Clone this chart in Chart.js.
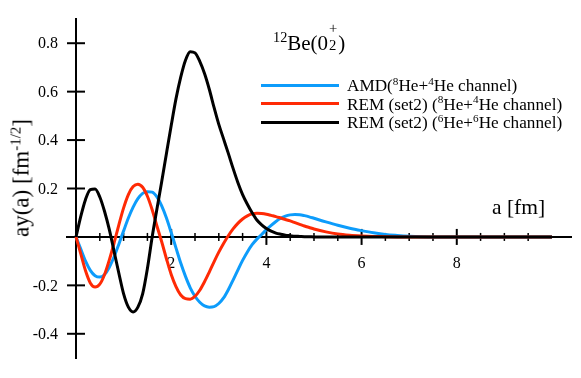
<!DOCTYPE html>
<html>
<head>
<meta charset="utf-8">
<script src="https://cdn.jsdelivr.net/npm/chart.js@4.4.1/dist/chart.umd.min.js"></script>
<style>
body { margin: 0; background: #fff; }
#wrap { position: relative; width: 581px; height: 378px; font-family: "Liberation Serif", serif; color: #000; }
#chart { position: absolute; left: 0; top: 0; }
.txt { position: absolute; line-height: 1; white-space: nowrap; }
.sup { font-size: 0.65em; position: relative; top: -0.55em; }
.stack { display: inline-block; position: relative; width: 0.48em; height: 1em; }
.stack span { position: absolute; left: 1px; font-size: 0.7em; line-height: 1; }
.leg { position: absolute; left: 261px; width: 78px; height: 3px; }
</style>
</head>
<body>
<div id="wrap">
  <canvas id="chart" width="581" height="378"></canvas>
  <div class="txt" style="left:273px; top:29px; font-size:21px;"><span class="sup" style="font-size:0.68em;">12</span>Be(0<span class="stack"><span style="top:-8px;">+</span><span style="top:9px;">2</span></span>)</div>
  <div class="leg" style="top:84px; background:#0d9cfb;"></div>
  <div class="leg" style="top:102px; background:#ff2a05;"></div>
  <div class="leg" style="top:121px; background:#000;"></div>
  <div class="txt" style="left:347px; top:77px; font-size:17.2px;">AMD(<span class="sup">8</span>He+<span class="sup">4</span>He channel)</div>
  <div class="txt" style="left:347px; top:95.5px; font-size:17.2px;">REM (set2) (<span class="sup">8</span>He+<span class="sup">4</span>He channel)</div>
  <div class="txt" style="left:347px; top:114px; font-size:17.2px;">REM (set2) (<span class="sup">6</span>He+<span class="sup">6</span>He channel)</div>
  <div class="txt" style="left:492px; top:197px; font-size:21.5px;">a [fm]</div>
  <div class="txt" style="left:21px; top:178px; font-size:23px; transform: translate(-50%, -50%) rotate(-90deg);">ay(a) [fm<span class="sup">-1/2</span>]</div>
</div>
<script>
// a [fm]
var aValues = [0, 0.1, 0.2, 0.3, 0.4, 0.5, 0.6, 0.7, 0.8, 0.9,
    1.0, 1.1, 1.2, 1.3, 1.4, 1.5, 1.6, 1.7, 1.8, 1.9,
    2.0, 2.1, 2.2, 2.3, 2.4, 2.5, 2.6, 2.7, 2.8, 2.9,
    3.0, 3.1, 3.2, 3.3, 3.4, 3.5, 3.6, 3.7, 3.8, 3.9,
    4.0, 4.1, 4.2, 4.3, 4.4, 4.5, 4.6, 4.7, 4.8, 4.9,
    5.0, 5.25, 5.5, 5.75, 6.0, 6.25, 6.5, 6.75, 7.0, 7.25,
    7.5, 7.75, 8.0, 8.25, 8.5, 8.75, 9.0, 9.25, 9.5, 9.75, 10.0];

// AMD (8He+4He channel)
var amdValues = [0, -0.05, -0.1, -0.138, -0.16, -0.166, -0.155, -0.125, -0.082, -0.03,
    0.025, 0.078, 0.123, 0.158, 0.18, 0.187, 0.185, 0.165, 0.128, 0.078,
    0.018, -0.045, -0.108, -0.163, -0.21, -0.245, -0.27, -0.285, -0.29, -0.288,
    -0.275, -0.252, -0.218, -0.178, -0.137, -0.097, -0.062, -0.032, -0.009, 0.01,
    0.03, 0.048, 0.064, 0.077, 0.086, 0.091, 0.093, 0.092, 0.088, 0.083,
    0.077, 0.062, 0.048, 0.036, 0.026, 0.017, 0.01, 0.006, 0.003, 0.001,
    0, 0, 0, 0, 0, 0, 0, 0, 0, 0, 0];

// REM (set2) (8He+4He channel)
var rem84Values = [0, -0.07, -0.14, -0.19, -0.207, -0.195, -0.155, -0.095, -0.025, 0.05,
    0.12, 0.175, 0.208, 0.218, 0.205, 0.168, 0.112, 0.045, -0.02, -0.09,
    -0.155, -0.205, -0.24, -0.255, -0.257, -0.245, -0.22, -0.185, -0.145, -0.103,
    -0.063, -0.027, 0.005, 0.033, 0.056, 0.074, 0.087, 0.095, 0.098, 0.097,
    0.094, 0.089, 0.084, 0.078, 0.072, 0.066, 0.059, 0.052, 0.045, 0.039,
    0.033, 0.021, 0.012, 0.007, 0.004, 0.002, 0.001, 0, 0, 0,
    0, 0, 0, 0, 0, 0, 0, 0, 0, 0, 0];

// REM (set2) (6He+6He channel)
var rem66Values = [0, 0.085, 0.155, 0.195, 0.198, 0.165, 0.105, 0.03, -0.06, -0.15,
    -0.235, -0.29, -0.31, -0.29, -0.235, -0.13, 0.0, 0.115, 0.228, 0.345,
    0.46, 0.57, 0.66, 0.73, 0.765, 0.76, 0.725, 0.675, 0.61, 0.535,
    0.465, 0.405, 0.345, 0.283, 0.225, 0.175, 0.135, 0.1, 0.07, 0.05,
    0.035, 0.024, 0.016, 0.011, 0.007, 0.005, 0.003, 0.002, 0.001, 0.001,
    0, 0, 0, 0, 0, 0, 0, 0, 0, 0,
    0, 0, 0, 0, 0, 0, 0, 0, 0, 0, 0];

var xMajorTicks = [2, 4, 6, 8];
var yTickValues = [-0.4, -0.2, 0.2, 0.4, 0.6, 0.8];

function toPoints(values) {
    return aValues.map(function (a, i) {
        return {x: a, y: values[i]};
    });
}

function isOneOf(list, v) {
    return list.some(function (t) { return Math.abs(t - v) < 1e-6; });
}

// tick marks crossing both sides of the axes, plus the y labels
var crossTicks = {
    id: 'crossTicks',
    beforeDatasetsDraw: function (chart) {
        var ctx = chart.ctx;
        var xs = chart.scales.x;
        var ys = chart.scales.y;
        var x0 = xs.getPixelForValue(0);
        var y0 = ys.getPixelForValue(0);
        ctx.save();
        ctx.strokeStyle = '#000';
        xs.ticks.forEach(function (t) {
            if (t.value <= 0 || t.value >= 10) return;
            var px = xs.getPixelForValue(t.value);
            var major = isOneOf(xMajorTicks, t.value);
            var len = major ? 8 : 4;
            ctx.lineWidth = major ? 2 : 1.5;
            ctx.beginPath();
            ctx.moveTo(px, y0 - len);
            ctx.lineTo(px, y0 + len);
            ctx.stroke();
        });
        ctx.fillStyle = '#000';
        ctx.font = '16px "Liberation Serif"';
        ctx.textAlign = 'right';
        ctx.textBaseline = 'middle';
        yTickValues.forEach(function (v) {
            var py = ys.getPixelForValue(v);
            ctx.lineWidth = 2;
            ctx.beginPath();
            ctx.moveTo(x0 - 9, py);
            ctx.lineTo(x0 + 9, py);
            ctx.stroke();
            ctx.fillText(v.toFixed(1), x0 - 18, py + 1);
        });
        ctx.restore();
    }
};

var ctx = document.getElementById("chart").getContext("2d");

var waveChart = new Chart(ctx, {
    type: 'line',
    data: {
        datasets: [
            {
                label: 'AMD(8He+4He channel)',
                data: toPoints(amdValues),
                borderColor: '#0d9cfb',
                order: 2
            },
            {
                label: 'REM (set2) (8He+4He channel)',
                data: toPoints(rem84Values),
                borderColor: '#ff2a05',
                order: 1
            },
            {
                label: 'REM (set2) (6He+6He channel)',
                data: toPoints(rem66Values),
                borderColor: '#000000',
                order: 0
            }]
    },
    options: {
        responsive: false,
        animation: false,
        devicePixelRatio: 1,
        layout: {
            padding: {left: 66.5, right: 10, top: 19, bottom: 20}
        },
        elements: {
            point: {radius: 0},
            line: {borderWidth: 3, cubicInterpolationMode: 'monotone', fill: false}
        },
        plugins: {
            legend: {display: false},
            tooltip: {enabled: false}
        },
        scales: {
            x: {
                type: 'linear',
                position: {y: 0},
                min: -0.2,
                max: 10.4,
                afterFit: function (scale) { scale.height = 0; },
                border: {display: true, color: '#000', width: 2},
                grid: {display: true, drawOnChartArea: false, drawTicks: false},
                ticks: {
                    stepSize: 0.5,
                    includeBounds: false,
                    autoSkip: false,
                    maxRotation: 0,
                    padding: 17,
                    color: '#000',
                    font: {family: 'Liberation Serif', size: 16},
                    callback: function (v) {
                        return isOneOf(xMajorTicks, v) ? String(v) : '';
                    }
                }
            },
            y: {
                type: 'linear',
                position: {x: 0},
                min: -0.5,
                max: 0.9,
                afterFit: function (scale) { scale.width = 0; },
                border: {display: true, color: '#000', width: 2},
                grid: {display: true, drawOnChartArea: false, drawTicks: false},
                ticks: {display: false}
            }
        }
    },
    plugins: [crossTicks]
});
</script>
</body>
</html>
